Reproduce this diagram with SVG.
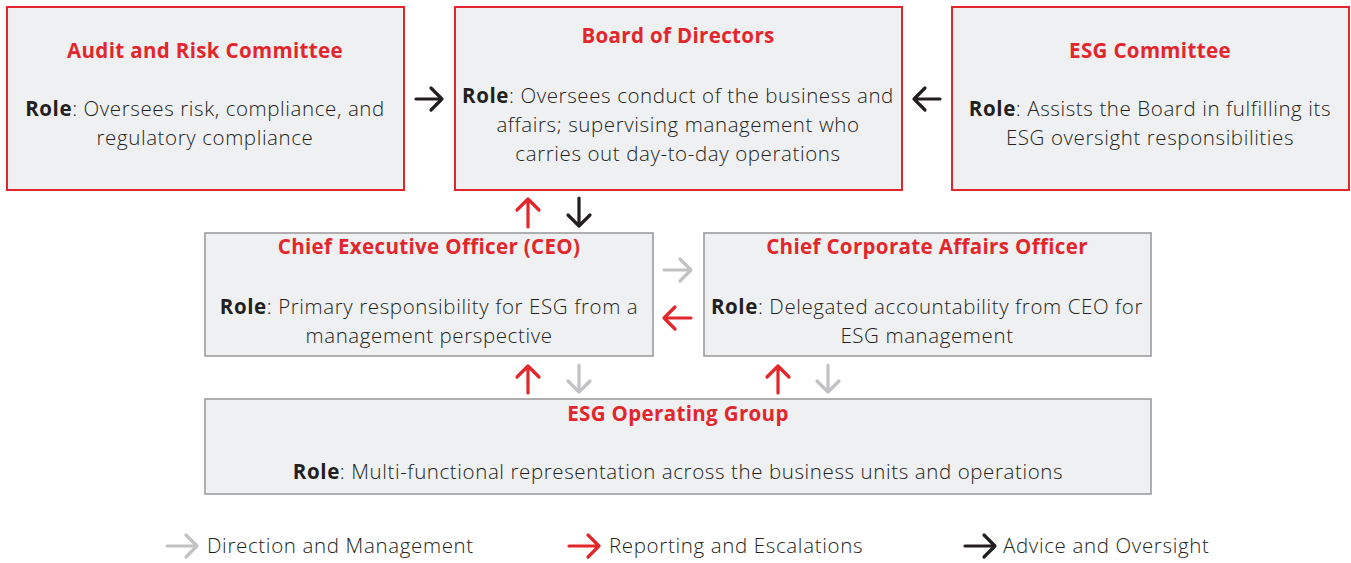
<svg xmlns="http://www.w3.org/2000/svg" width="1351" height="563" viewBox="0 0 1351 563">
<defs>
<style>
.bx{fill:#eff0f2;stroke-width:2}
.rb{stroke:#e3262b}
.gb{stroke:#9d9d9f;stroke-width:1.6}
text{font-family:"Open Sans","Noto Sans",sans-serif;font-size:20.5px;font-weight:300;letter-spacing:0.6px;fill:#231f20;text-anchor:middle}
.t{font-weight:bold;fill:#e3262b;letter-spacing:0.35px}
.b{font-weight:bold}
.lg{text-anchor:start;letter-spacing:0.65px}
.a{fill:none;stroke-width:3.2;stroke-linecap:round;stroke-linejoin:round}
.k{stroke:#231f20}
.r{stroke:#e3262b}
.g{stroke:#c2c2c4}
</style>
</defs>
<rect width="1351" height="563" fill="#ffffff"/>
<g id="audit">
<rect class="bx rb" x="7" y="7" width="397" height="183"/>
<text class="t" x="205" y="58">Audit and Risk Committee</text>
<text x="205" y="116"><tspan class="b">Role</tspan>: Oversees risk, compliance, and</text>
<text x="205" y="145">regulatory compliance</text>
</g>
<g id="board">
<rect class="bx rb" x="455" y="7" width="447" height="183"/>
<text class="t" x="678" y="43">Board of Directors</text>
<text x="678" y="103"><tspan class="b">Role</tspan>: Oversees conduct of the business and</text>
<text x="678" y="132">affairs; supervising management who</text>
<text x="678" y="161">carries out day-to-day operations</text>
</g>
<g id="esgc">
<rect class="bx rb" x="952" y="7" width="397" height="183"/>
<text class="t" x="1150" y="58">ESG Committee</text>
<text x="1150" y="116"><tspan class="b">Role</tspan>: Assists the Board in fulfilling its</text>
<text x="1150" y="145">ESG oversight responsibilities</text>
</g>
<g id="ceo">
<rect class="bx gb" x="205" y="233" width="448" height="123"/>
<text class="t" x="429" y="254">Chief Executive Officer (CEO)</text>
<text x="429" y="314"><tspan class="b">Role</tspan>: Primary responsibility for ESG from a</text>
<text x="429" y="343">management perspective</text>
</g>
<g id="ccao">
<rect class="bx gb" x="704" y="233" width="447" height="123"/>
<text class="t" x="927" y="254">Chief Corporate Affairs Officer</text>
<text x="927" y="314"><tspan class="b">Role</tspan>: Delegated accountability from CEO for</text>
<text x="927" y="343">ESG management</text>
</g>
<g id="esgog">
<rect class="bx gb" x="205" y="399" width="946" height="95"/>
<text class="t" x="678" y="421">ESG Operating Group</text>
<text x="678" y="479"><tspan class="b">Role</tspan>: Multi-functional representation across the business units and operations</text>
</g>
<g id="connectors">
<path class="a k" d="M416 99H442M431 88L442 99L431 110"/>
<path class="a k" d="M940 99H914M925 88L914 99L925 110"/>
<path class="a r" d="M528 227V199M517 210L528 199L539 210"/>
<path class="a k" d="M579 198V226M568 215L579 226L590 215"/>
<path class="a g" d="M664 270H691M680 259L691 270L680 281"/>
<path class="a r" d="M691 318H664M675 307L664 318L675 329"/>
<path class="a r" d="M528 393V366M517 377L528 366L539 377"/>
<path class="a g" d="M579 365V392M568 381L579 392L590 381"/>
<path class="a r" d="M778 393V366M767 377L778 366L789 377"/>
<path class="a g" d="M828 365V392M817 381L828 392L839 381"/>
</g>
<g id="legend">
<path class="a g" d="M167 546H197M186 535L197 546L186 557"/>
<text class="lg" x="207" y="553">Direction and Management</text>
<path class="a r" d="M569 546H599M588 535L599 546L588 557"/>
<text class="lg" x="609" y="553">Reporting and Escalations</text>
<path class="a k" d="M965 546H995M984 535L995 546L984 557"/>
<text class="lg" x="1003" y="553">Advice and Oversight</text>
</g>
</svg>
